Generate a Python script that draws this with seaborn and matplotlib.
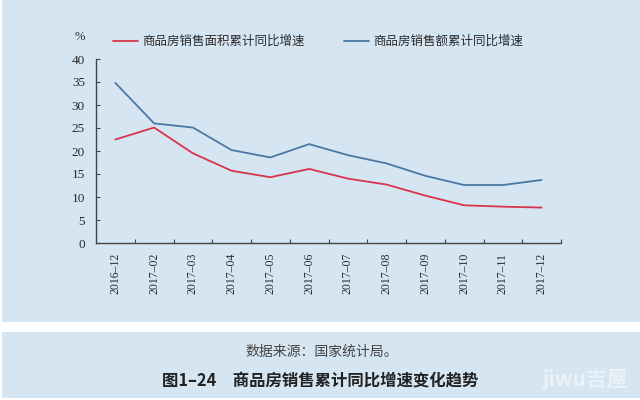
import matplotlib
matplotlib.use("Agg")
import matplotlib.pyplot as plt
import matplotlib.patches as mpatches
import seaborn as sns
import pandas as pd
import numpy as np

months = ["2016–12", "2017–02", "2017–03", "2017–04", "2017–05", "2017–06",
          "2017–07", "2017–08", "2017–09", "2017–10", "2017–11", "2017–12"]
area_growth = [22.5, 25.1, 19.5, 15.7, 14.3, 16.1, 14.0, 12.7, 10.3, 8.2, 7.9, 7.7]
value_growth = [34.8, 26.0, 25.1, 20.2, 18.6, 21.5, 19.1, 17.3, 14.6, 12.6, 12.6, 13.7]
series_names = ["商品房销售面积累计同比增速", "商品房销售额累计同比增速"]
y_ticks = [0, 5, 10, 15, 20, 25, 30, 35, 40]
source_text = "数据来源：国家统计局。"
title_text = "图1–24　商品房销售累计同比增速变化趋势"

sns.set_theme(style="white")
plt.rcParams['font.family'] = ['Liberation Serif', 'Noto Sans CJK SC', 'DejaVu Sans']

BG = "#d6e5f2"
RED = "#d9344d"
BLUE = "#4a78a6"
TXT = "#2b2b2b"

df = pd.DataFrame({
    "x": list(range(len(months))) * 2,
    "v": area_growth + value_growth,
    "s": [series_names[0]] * len(months) + [series_names[1]] * len(months),
})

fig = plt.figure(figsize=(6.4, 4.0), dpi=100, facecolor=BG)
# white separator bands
fig.patches.append(mpatches.Rectangle((0, 1 - 332/400), 1, 10/400, transform=fig.transFigure,
                                      facecolor="white", edgecolor="none", zorder=0))
fig.patches.append(mpatches.Rectangle((0, 0), 1, 2/400, transform=fig.transFigure,
                                      facecolor="white", edgecolor="none", zorder=0))
fig.patches.append(mpatches.Rectangle((0, 0), 2/640, 1, transform=fig.transFigure,
                                      facecolor="white", edgecolor="none", zorder=0))

ax = fig.add_axes([96/640, 1 - 243/400, (561 - 96)/640, (243 - 59)/400])
ax.set_facecolor(BG)
sns.lineplot(data=df, x="x", y="v", hue="s", palette=[RED, BLUE], linewidth=1.3,
             ax=ax, legend=False, sort=False)

ax.set_xlim(-0.5, len(months) - 0.5)
ax.set_ylim(0, 40)
ax.set_xlabel("")
ax.set_ylabel("")
for s in ["top", "right"]:
    ax.spines[s].set_visible(False)
for s in ["left", "bottom"]:
    ax.spines[s].set_color("#444444")
    ax.spines[s].set_linewidth(1.0)

ax.set_yticks(y_ticks)
ax.set_yticklabels([str(t) for t in y_ticks], fontsize=9.5, color=TXT)
ax.tick_params(axis="y", direction="in", length=3, width=0.8, color="#444444", pad=8, left=True)

ax.set_xticks(np.arange(len(months)))
ax.set_xticklabels(months, rotation=90, fontsize=8.5, color=TXT, va="top")
ax.tick_params(axis="x", which="major", length=0, pad=7)
ax.set_xticks(np.arange(-0.5, len(months) + 0.5, 1.0)[1:], minor=True)
ax.tick_params(axis="x", which="minor", direction="in", length=3, width=0.8, color="#444444", bottom=True)

# '%' unit label
fig.text(80/640, 1 - 37/400, "%", fontsize=9, color=TXT, ha="center", va="center")

# legend (manual, figure coords)
handles = [plt.Line2D([], [], color=RED, lw=1.3), plt.Line2D([], [], color=BLUE, lw=1.3)]
leg = fig.legend(handles, series_names, loc="center", bbox_to_anchor=(318/640, 1 - 42/400),
                 ncol=2, frameon=False, fontsize=9, handlelength=2.0, handletextpad=0.3,
                 columnspacing=3.2, labelcolor=TXT)

# bottom caption
fig.text(322/640, 1 - 352/400, source_text, fontsize=10, color="#444444",
         ha="center", va="center", family=['Noto Sans CJK SC'])
fig.text(320/640, 1 - 381/400, title_text, fontsize=11.8, color="#222222", fontweight="bold",
         ha="center", va="center", family=['Noto Sans CJK SC'])
fig.text(585/640, 1 - 379/400, "jiwu吉屋", fontsize=15, color="white", alpha=0.5,
         fontweight="bold", style="italic", ha="center", va="center", family=['Noto Sans CJK SC'])

fig.savefig("out.png", dpi=100, facecolor=BG)
